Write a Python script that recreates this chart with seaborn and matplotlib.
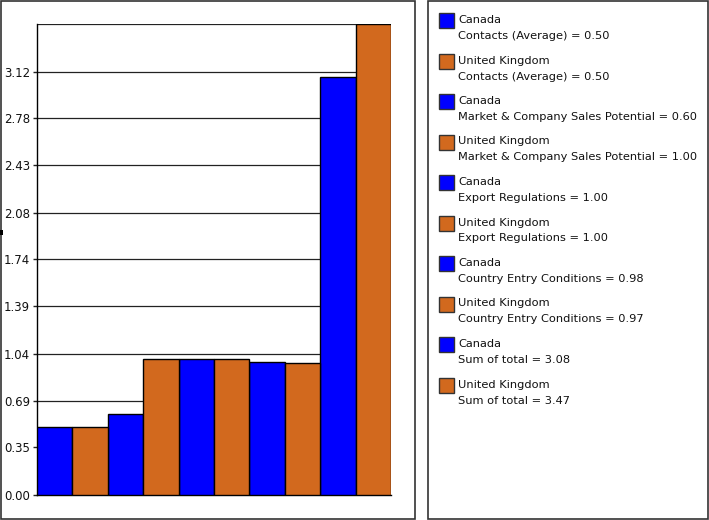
import matplotlib
matplotlib.use("Agg")
import matplotlib.pyplot as plt
from matplotlib.patches import Rectangle
import seaborn as sns
import pandas as pd
import numpy as np

criteria = ["Contacts (Average)", "Market & Company Sales Potential", "Export Regulations",
            "Country Entry Conditions", "Sum of total"]
countries = ["Canada", "United Kingdom"]
canada_vals = [0.50, 0.60, 1.00, 0.98, 3.08]
uk_vals = [0.50, 1.00, 1.00, 0.97, 3.47]
colors = {"Canada": "#0000FF", "United Kingdom": "#D2691E"}
ytick_vals = [0.00, 0.35, 0.69, 1.04, 1.39, 1.74, 2.08, 2.43, 2.78, 3.12]

rows = []
for i, c in enumerate(criteria):
    rows.append({"criterion": c, "country": "Canada", "value": canada_vals[i]})
    rows.append({"criterion": c, "country": "United Kingdom", "value": uk_vals[i]})
df = pd.DataFrame(rows)

W, H = 709, 520
fig = plt.figure(figsize=(W / 100, H / 100), dpi=100)
plt.rcParams['font.family'] = ['DejaVu Sans']

def fx(px):
    return px / W
def fy(py):
    return 1 - py / H

# panel frames
fig.add_artist(Rectangle((fx(0.5), fy(518.5)), fx(415 - 0.5), (518) / H, transform=fig.transFigure,
                         fill=False, edgecolor="#333333", linewidth=1.2))
fig.add_artist(Rectangle((fx(428), fy(518.5)), fx(708 - 428), (518) / H, transform=fig.transFigure,
                         fill=False, edgecolor="#333333", linewidth=1.2))
fig.add_artist(Rectangle((fx(0), fy(235)), fx(3), 5 / H, transform=fig.transFigure,
                         facecolor="black", edgecolor="none"))

ymax = max(max(canada_vals), max(uk_vals))
left, right, top, bottom = 37, 391, 24, 495
ax = fig.add_axes([fx(left), fy(bottom), fx(right - left), (bottom - top) / H])
sns.barplot(data=df, x="criterion", y="value", hue="country", palette=colors,
            width=1.0, dodge=True, edgecolor="black", linewidth=1.0, ax=ax,
            legend=False, errorbar=None, saturation=1, zorder=3)
ax.set_xlim(-0.5, len(criteria) - 0.5)
ax.set_ylim(0, ymax)
ax.set_yticks(ytick_vals)
ax.set_yticklabels([f"{v:.2f}" for v in ytick_vals], fontsize=8.5)
for v in ytick_vals[1:] + [ymax]:
    ax.axhline(v, color="#222222", linewidth=0.9, zorder=1)
ax.set_xticks([])
ax.set_xlabel("")
ax.set_ylabel("")
for s in ["top", "right"]:
    ax.spines[s].set_visible(False)
ax.spines["left"].set_linewidth(1.0)
ax.spines["bottom"].set_linewidth(1.0)
ax.tick_params(axis="y", length=3, width=1, pad=2, colors="#222222", labelcolor="#111111")
ax.set_facecolor("white")

# legend
y0 = 13
step = 40.5
k = 0
for i, c in enumerate(criteria):
    for country, vals in (("Canada", canada_vals), ("United Kingdom", uk_vals)):
        ytop = y0 + k * step
        fig.add_artist(Rectangle((fx(439), fy(ytop + 15)), fx(15), 15 / H, transform=fig.transFigure,
                                 facecolor=colors[country], edgecolor="#333333", linewidth=1.0))
        fig.text(fx(458), fy(ytop + 7), country, fontsize=8.2, va="center", ha="left", color="#111111")
        fig.text(fx(458), fy(ytop + 23), f"{c} = {vals[i]:.2f}", fontsize=8.2, va="center",
                 ha="left", color="#111111")
        k += 1

fig.savefig("out.png", dpi=100)
